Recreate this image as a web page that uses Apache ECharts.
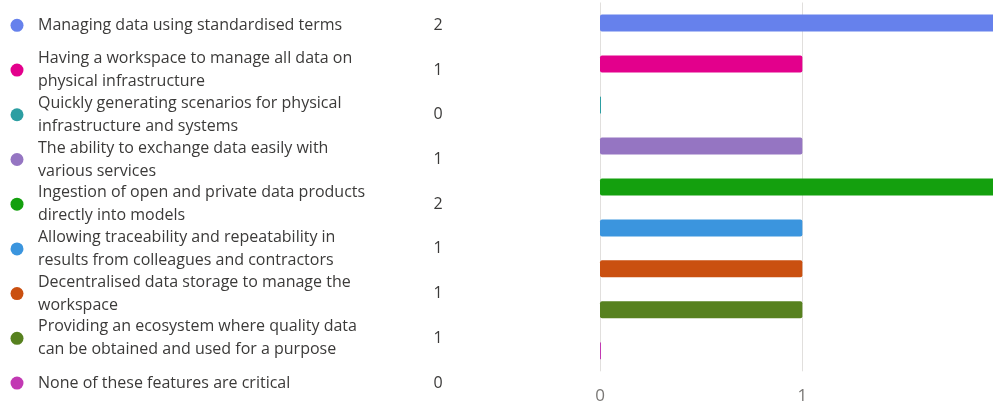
<!DOCTYPE html>
<html>
<head>
<meta charset="utf-8">
<script src="https://cdn.jsdelivr.net/npm/echarts@6/dist/echarts.min.js"></script>
<style>
  html, body { margin: 0; padding: 0; background: #ffffff; }
  #chart { width: 993px; height: 403px; }
</style>
</head>
<body>
<div id="chart"></div>
<script>
// Survey question: which features are critical (response counts per option)
const options = [
  'Managing data using standardised terms',
  'Having a workspace to manage all data on\nphysical infrastructure',
  'Quickly generating scenarios for physical\ninfrastructure and systems',
  'The ability to exchange data easily with\nvarious services',
  'Ingestion of open and private data products\ndirectly into models',
  'Allowing traceability and repeatability in\nresults from colleagues and contractors',
  'Decentralised data storage to manage the\nworkspace',
  'Providing an ecosystem where quality data\ncan be obtained and used for a purpose',
  'None of these features are critical'
];
const counts = [2, 1, 0, 1, 2, 1, 1, 1, 0];
const colors = ['#6681EC', '#E3008C', '#2C9EA2', '#9575C2', '#14A00E', '#3B95DE', '#CA5010', '#57811F', '#C239B3'];
const axisTicks = [0, 1, 2];

const FONT = "'Open Sans', 'Noto Sans', sans-serif";

const chart = echarts.init(document.getElementById('chart'), null, { renderer: 'canvas' });

chart.setOption({
  animation: false,
  backgroundColor: '#ffffff',
  grid: [
    // bar area; the scale runs past the right edge of the canvas
    { left: 600, width: 404.7, top: 2.5, height: 368.8, containLabel: false, outerBoundsMode: 'none' },
    // option list with colour dots and counts
    { left: 17, width: 421, top: 3, height: 402.4, containLabel: false, outerBoundsMode: 'none' }
  ],
  xAxis: [
    {
      gridIndex: 0,
      type: 'value',
      min: axisTicks[0],
      max: axisTicks[axisTicks.length - 1],
      interval: 1,
      axisLine: { show: false },
      axisTick: { show: false },
      splitLine: { show: true, lineStyle: { color: '#E1DFDD', width: 1 } },
      axisLabel: { color: '#7A7876', fontSize: 17, fontFamily: FONT, margin: 16 }
    },
    {
      gridIndex: 1,
      type: 'value',
      min: 0,
      max: 1,
      show: false
    }
  ],
  yAxis: [
    {
      gridIndex: 0,
      type: 'category',
      inverse: true,
      data: options,
      axisLine: { show: false },
      axisTick: { show: false },
      axisLabel: { show: false },
      splitLine: { show: false }
    },
    {
      gridIndex: 1,
      type: 'category',
      inverse: true,
      position: 'left',
      data: options,
      axisLine: { show: false },
      axisTick: { show: false },
      splitLine: { show: false },
      axisLabel: {
        inside: true,
        margin: 21,
        align: 'left',
        color: '#3B3A39',
        fontSize: 16,
        lineHeight: 23,
        fontFamily: FONT
      }
    },
    {
      gridIndex: 1,
      type: 'category',
      inverse: true,
      position: 'right',
      data: options,
      axisLine: { show: false },
      axisTick: { show: false },
      splitLine: { show: false },
      axisLabel: {
        margin: 0,
        align: 'center',
        color: '#3B3A39',
        fontSize: 16,
        fontFamily: FONT,
        formatter: (v, i) => String(counts[i])
      }
    }
  ],
  series: [
    {
      type: 'bar',
      xAxisIndex: 0,
      yAxisIndex: 0,
      barWidth: 17,
      barMinHeight: 1,
      data: counts.map((c, i) => ({
        value: c,
        itemStyle: { color: colors[i], borderRadius: 2 }
      }))
    },
    {
      type: 'scatter',
      xAxisIndex: 1,
      yAxisIndex: 1,
      symbol: 'circle',
      symbolSize: 13,
      clip: false,
      data: options.map((name, i) => ({
        value: [0, name],
        itemStyle: { color: colors[i], opacity: 1 }
      }))
    }
  ]
});
</script>
</body>
</html>
